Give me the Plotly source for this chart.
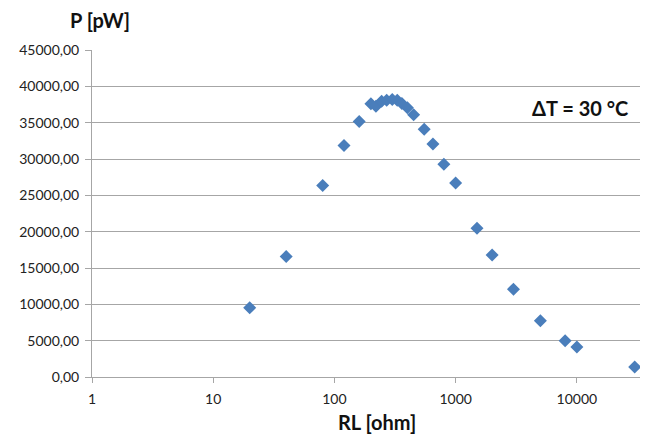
import plotly.graph_objects as go

# Data
rl_ohm = [20, 40, 80, 120, 160, 200, 220, 245, 270, 300, 330, 360, 400, 450,
          550, 650, 800, 1000, 1500, 2000, 3000, 5000, 8000, 10000, 30000]
power_pw = [9540, 16570, 26340, 31850, 35150, 37590, 37260, 37950, 38090, 38180,
            38090, 37630, 37040, 36080, 34090, 32060, 29280, 26710, 20460, 16800,
            12090, 7750, 5000, 4130, 1380]

y_tickvals = [0, 5000, 10000, 15000, 20000, 25000, 30000, 35000, 40000, 45000]
y_ticktext = ["0,00", "5000,00", "10000,00", "15000,00", "20000,00", "25000,00",
              "30000,00", "35000,00", "40000,00", "45000,00"]
x_tickvals = [1, 10, 100, 1000, 10000]
x_ticktext = ["1", "10", "100", "1000", "10000"]

FONT = "Lato, Open Sans, sans-serif"

fig = go.Figure()
fig.add_trace(go.Scatter(
    x=rl_ohm, y=power_pw, mode="markers",
    marker=dict(symbol="diamond", size=10, color="#4a7ebb", line=dict(width=0)),
    showlegend=False,
))

# page body has an 8px margin; margins compensate so plot sits where the reference has it
fig.update_layout(
    width=648, height=437,
    margin=dict(l=84, r=8, t=42, b=68),
    paper_bgcolor="white", plot_bgcolor="white",
    font=dict(family=FONT, size=14, color="#222222"),
    xaxis=dict(
        type="log", range=[0, 4.587],
        tickvals=x_tickvals, ticktext=x_ticktext,
        showgrid=False, zeroline=False,
        showline=True, linecolor="#a6a6a6", linewidth=1,
        ticks="outside", ticklen=5, tickcolor="#a6a6a6",
        ticklabelstandoff=4,
        tickfont=dict(family=FONT, size=14, color="#222222"),
    ),
    yaxis=dict(
        range=[0, 45000],
        tickvals=y_tickvals, ticktext=y_ticktext,
        showgrid=True, gridcolor="#a6a6a6", gridwidth=1,
        zeroline=False,
        showline=True, linecolor="#a6a6a6", linewidth=1,
        ticks="outside", ticklen=6, tickcolor="#a6a6a6",
        ticklabelstandoff=3,
        tickfont=dict(family=FONT, size=14, color="#222222"),
    ),
    annotations=[
        dict(text="<b>P [pW]</b>", xref="paper", yref="paper",
             x=0.0144, y=1.092, xanchor="center", yanchor="middle", showarrow=False,
             font=dict(family=FONT, size=20, color="#111111")),
        dict(text="<b>RL [ohm]</b>", xref="paper", yref="paper",
             x=0.5126, y=-0.137, xanchor="center", yanchor="middle", showarrow=False,
             font=dict(family=FONT, size=20, color="#111111")),
        dict(text="<b>ΔT = 30 °C</b>", xref="paper", yref="paper",
             x=0.878, y=0.823, xanchor="center", yanchor="middle", showarrow=False,
             font=dict(family=FONT, size=20, color="#111111")),
    ],
)

fig.write_html("out.html")
